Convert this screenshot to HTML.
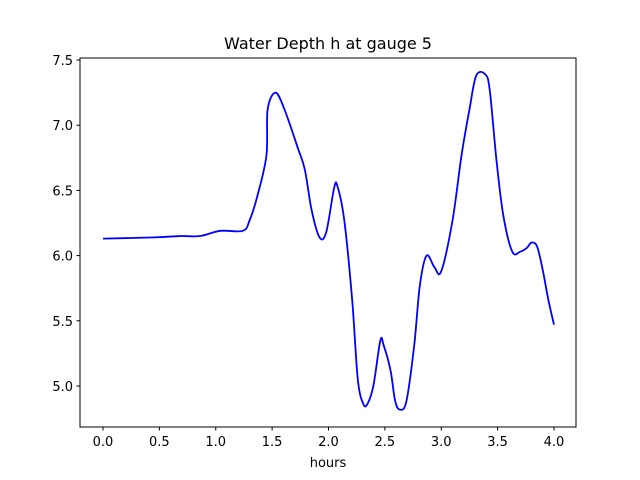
<!DOCTYPE html>
<html><head><meta charset="utf-8"><style>
body{margin:0;background:#fff}
svg{display:block;font-family:"DejaVu Sans","Liberation Sans",sans-serif}
</style></head><body>
<svg id="chart" width="640" height="480">
<rect width="640" height="480" fill="#fff"/>
<text x="328" y="49" text-anchor="middle" font-size="16">Water Depth h at gauge 5</text>
<g id="plot"></g>
<rect x="80" y="58" width="496" height="369" fill="none" stroke="#000" stroke-width="1"/>
<text x="328" y="467" text-anchor="middle" font-size="13">hours</text>
</svg>
<script>
const times=[0,0.46,0.68,0.86,1.04,1.24,1.30,1.37,1.45,1.46,1.53,1.61,1.73,1.79,1.85,1.92,1.98,2.05,2.08,2.14,2.21,2.26,2.31,2.35,2.40,2.46,2.49,2.55,2.59,2.63,2.69,2.76,2.81,2.87,2.94,3.00,3.10,3.18,3.25,3.31,3.39,3.43,3.49,3.55,3.63,3.70,3.76,3.80,3.85,3.90,3.95,4.00];
const depths=[6.13,6.14,6.15,6.15,6.19,6.19,6.27,6.46,6.77,7.12,7.25,7.12,6.82,6.66,6.35,6.14,6.18,6.52,6.53,6.27,5.66,5.05,4.86,4.87,5.01,5.35,5.31,5.12,4.89,4.82,4.88,5.31,5.77,6.00,5.91,5.88,6.27,6.77,7.12,7.38,7.39,7.27,6.73,6.31,6.03,6.03,6.06,6.10,6.07,5.89,5.66,5.47];
const xTicks=[0,0.5,1,1.5,2,2.5,3,3.5,4];
const xTickLabels=["0.0","0.5","1.0","1.5","2.0","2.5","3.0","3.5","4.0"];
const yTicks=[5,5.5,6,6.5,7,7.5];
const yTickLabels=["5.0","5.5","6.0","6.5","7.0","7.5"];
const X=t=>103+t*112.75;
const Y=v=>60+(7.5-v)*130.4;
const NS="http://www.w3.org/2000/svg";
const g=document.getElementById('plot');
function mk(tag,attrs){const e=document.createElementNS(NS,tag);for(const k in attrs)e.setAttribute(k,attrs[k]);g.appendChild(e);return e;}
xTicks.forEach((t,i)=>{
  const l=mk('line',{x1:X(t),x2:X(t),y1:427,y2:430.5,stroke:'#000'});
  
  
  const tx=mk('text',{x:X(t),y:446,'text-anchor':'middle','font-size':13});
  tx.textContent=xTickLabels[i];
  
  
});
yTicks.forEach((v,i)=>{
  const l=mk('line',{x1:76.5,x2:80,y1:Y(v),y2:Y(v),stroke:'#000'});
  
  
  const tx=mk('text',{x:73,y:Y(v)+5,'text-anchor':'end','font-size':13});
  tx.textContent=yTickLabels[i];
  
  
});
// smooth Catmull-Rom path
const P=times.map((t,i)=>[X(t),Y(depths[i])]);
let d=`M${P[0][0]},${P[0][1]}`;
for(let i=0;i<P.length-1;i++){
  const p0=P[Math.max(0,i-1)],p1=P[i],p2=P[i+1],p3=P[Math.min(P.length-1,i+2)];
  const c1=[p1[0]+(p2[0]-p0[0])/6,p1[1]+(p2[1]-p0[1])/6];
  const c2=[p2[0]-(p3[0]-p1[0])/6,p2[1]-(p3[1]-p1[1])/6];
  d+=` C${c1[0]},${c1[1]} ${c2[0]},${c2[1]} ${p2[0]},${p2[1]}`;
}
const line=mk('path',{d:d,fill:'none',stroke:'#0000ff','stroke-width':1.8});


</script>
</body></html>
